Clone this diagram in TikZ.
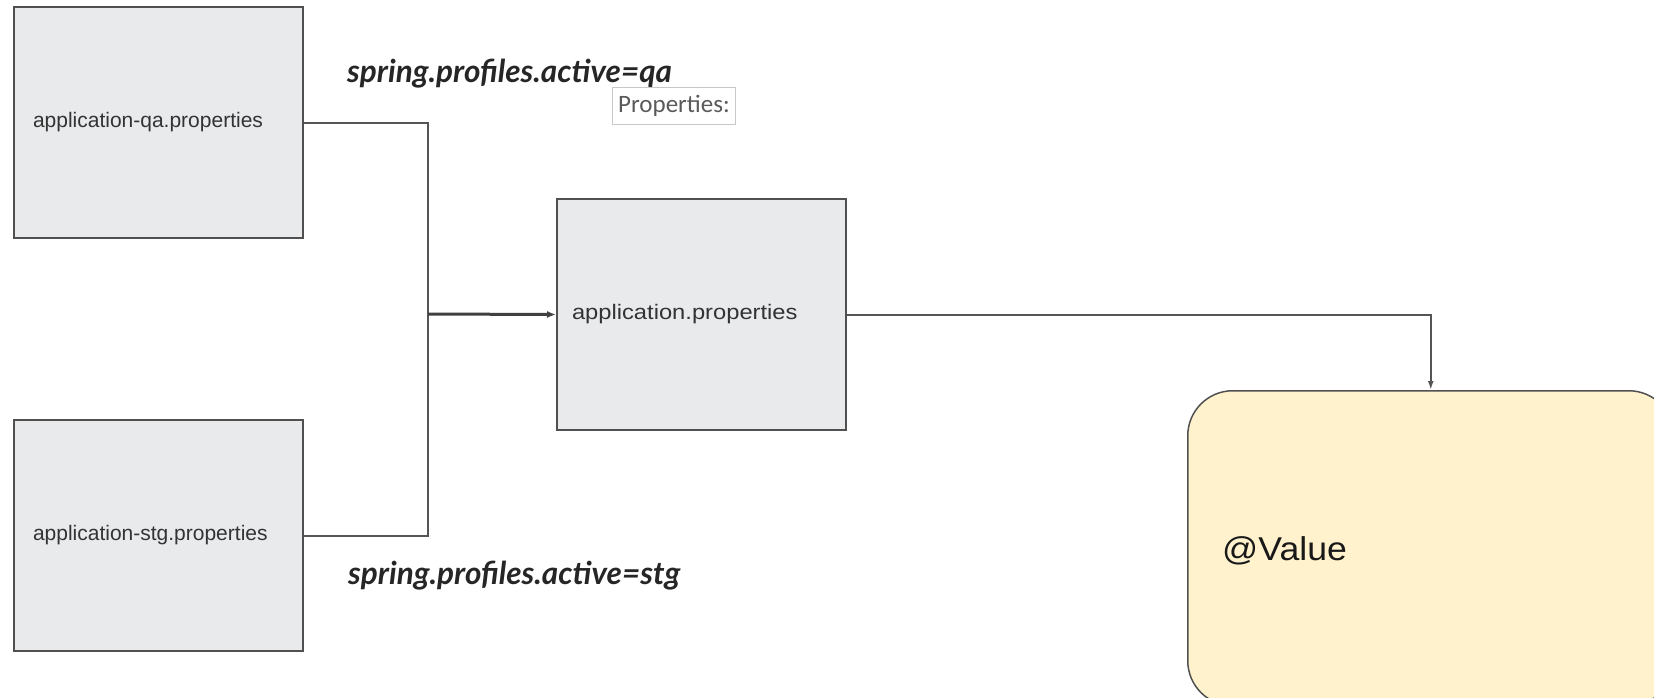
\documentclass[tikz,border=0pt]{standalone}
\usepackage{fontspec}
\setmainfont{Liberation Sans}
\newfontfamily\latofont{Lato}
\newfontfamily\carlitofont{Carlito}
\usetikzlibrary{arrows.meta}
\definecolor{boxfill}{HTML}{E8EAEC}
\definecolor{boxline}{HTML}{505050}
\definecolor{valfill}{HTML}{FFF2CC}
\definecolor{connline}{HTML}{555555}
\definecolor{tipline}{HTML}{C8C8C8}
\definecolor{tiptext}{HTML}{5A5A5A}
\tikzset{
  propbox/.style={draw=boxline, line width=2pt, fill=boxfill, rectangle,
    minimum width=289pt, minimum height=231pt, text width=259pt, inner xsep=15pt,
    inner ysep=0pt, align=left, anchor=north west, text=black!80},
  valbox/.style={draw=boxline, line width=1.5pt, fill=valfill, rectangle, rounded corners=45pt,
    minimum width=486pt, minimum height=315pt, inner sep=0pt, anchor=north west},
  valtextstyle/.style={anchor=base west, inner sep=0pt, text=black!90, font=\fontsize{33}{38}\selectfont},
  conn/.style={draw=connline, line width=2pt},
  mainconn/.style={draw=black!75, line width=3pt, -{Latex[length=9pt,width=7pt]}},
  profilelabel/.style={anchor=base west, inner sep=0pt, font=\latofont\bfseries\itshape\fontsize{31.5}{36}\selectfont, text=black!85},
  tipbox/.style={draw=tipline, line width=1pt, fill=white, rectangle, minimum width=123pt, minimum height=37pt,
    anchor=north west, inner sep=0pt, text=tiptext, font=\carlitofont\fontsize{25}{28}\selectfont}
}
\begin{document}
\begin{tikzpicture}[x=1pt,y=-1pt]
\useasboundingbox (0,0) rectangle (1654,697);
\node[propbox, font=\fontsize{21}{25}\selectfont, inner xsep=19pt, text width=251pt] (qa) at (13,6) {application-qa.properties};
\node[propbox, font=\fontsize{21}{25}\selectfont, inner xsep=19pt, text width=251pt] (stg) at (13,419) {application-stg.properties};
\node[propbox, font=\fontsize{21}{25}\selectfont] (app) at (556,198) {\scalebox{1.13}[1]{application.properties}};
\node[valbox] (val) at (1187,390) {};
\node[valtextstyle] (valtext) at (1222,560) {\scalebox{1.08}[1]{@Value}};
\coordinate (j) at (428,314);
\draw[conn] (qa.east) -| (j);
\draw[conn] (stg.east) -| (j);
\draw[mainconn] (j) -- (app.west);
\draw[conn, -{Latex[length=9pt,width=6pt]}] (app.east) -| (val.north);
\node[profilelabel] (lqa) at (347,82) {spring.profiles.active=qa};
\node[profilelabel] (lstg) at (348,584) {spring.profiles.active=stg};
\node[tipbox] (tip) at (612,87) {Properties:};
\end{tikzpicture}
\end{document}
